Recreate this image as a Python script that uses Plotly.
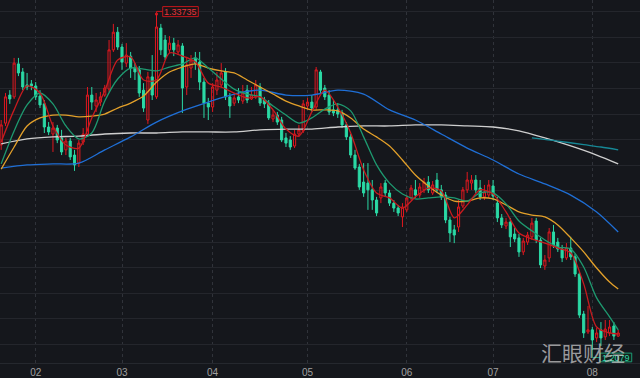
import pandas as pd
import plotly.graph_objects as go

# ---------------- data (GBP/USD daily) ----------------
dates = pd.bdate_range("2019-01-22", periods=144)

open_ = [1.2869, 1.2953, 1.3061, 1.3054, 1.3181, 1.3150, 1.3100, 1.3104, 1.3096, 1.3057,
         1.3027, 1.2938, 1.2911, 1.2934, 1.2896, 1.2850, 1.2884, 1.2830, 1.2799, 1.2880,
         1.2911, 1.3061, 1.3019, 1.3034, 1.3061, 1.3084, 1.3235, 1.3303, 1.3246, 1.3184,
         1.3211, 1.3165, 1.3158, 1.3080, 1.2965, 1.3131, 1.3054, 1.3319, 1.3273, 1.3235,
         1.3261, 1.3227, 1.3250, 1.3092, 1.3165, 1.3204, 1.3188, 1.3111, 1.3030, 1.3015,
         1.3080, 1.3100, 1.3150, 1.3054, 1.3030, 1.3054, 1.3038, 1.3080, 1.3046, 1.3054,
         1.3092, 1.3042, 1.3027, 1.2969, 1.2984, 1.2965, 1.2896, 1.2888, 1.2865, 1.2911,
         1.2923, 1.3019, 1.3034, 1.3015, 1.3150, 1.3088, 1.3061, 1.3004, 1.3004, 1.2992,
         1.2946, 1.2900, 1.2830, 1.2784, 1.2726, 1.2722, 1.2696, 1.2657, 1.2665, 1.2722,
         1.2684, 1.2645, 1.2626, 1.2592, 1.2619, 1.2665, 1.2696, 1.2676, 1.2696, 1.2726,
         1.2684, 1.2734, 1.2696, 1.2676, 1.2580, 1.2542, 1.2553, 1.2634, 1.2696, 1.2722,
         1.2734, 1.2703, 1.2669, 1.2676, 1.2711, 1.2645, 1.2588, 1.2557, 1.2572, 1.2526,
         1.2511, 1.2457, 1.2495, 1.2515, 1.2576, 1.2503, 1.2403, 1.2434, 1.2534, 1.2495,
         1.2468, 1.2434, 1.2472, 1.2438, 1.2372, 1.2218, 1.2149, 1.2157, 1.2126, 1.2157,
         1.2130, 1.2145, 1.2172, 1.2133]

close = [1.2946, 1.3054, 1.3046, 1.3184, 1.3146, 1.3092, 1.3092, 1.3096, 1.3054, 1.3023,
         1.2938, 1.2919, 1.2934, 1.2888, 1.2842, 1.2884, 1.2823, 1.2792, 1.2876, 1.2911,
         1.3061, 1.3034, 1.3042, 1.3054, 1.3088, 1.3235, 1.3303, 1.3246, 1.3188, 1.3215,
         1.3165, 1.3150, 1.3069, 1.3011, 1.3131, 1.3061, 1.3323, 1.3235, 1.3208, 1.3261,
         1.3235, 1.3254, 1.3088, 1.3177, 1.3196, 1.3184, 1.3111, 1.3030, 1.3015, 1.3092,
         1.3119, 1.3146, 1.3054, 1.3019, 1.3050, 1.3042, 1.3069, 1.3042, 1.3061, 1.3100,
         1.3030, 1.3027, 1.2973, 1.2984, 1.2957, 1.2888, 1.2876, 1.2861, 1.2911, 1.2927,
         1.3027, 1.3034, 1.3011, 1.3158, 1.3080, 1.3054, 1.2996, 1.2992, 1.2988, 1.2946,
         1.2900, 1.2830, 1.2780, 1.2707, 1.2684, 1.2696, 1.2657, 1.2607, 1.2707, 1.2684,
         1.2645, 1.2626, 1.2607, 1.2630, 1.2665, 1.2703, 1.2676, 1.2707, 1.2726, 1.2696,
         1.2715, 1.2696, 1.2669, 1.2580, 1.2530, 1.2522, 1.2630, 1.2696, 1.2734, 1.2734,
         1.2696, 1.2669, 1.2688, 1.2715, 1.2672, 1.2588, 1.2561, 1.2572, 1.2515, 1.2507,
         1.2457, 1.2499, 1.2522, 1.2568, 1.2503, 1.2407, 1.2426, 1.2534, 1.2484, 1.2468,
         1.2434, 1.2472, 1.2438, 1.2372, 1.2214, 1.2145, 1.2157, 1.2118, 1.2145, 1.2126,
         1.2160, 1.2168, 1.2133, 1.2145]

high = [1.2965, 1.3069, 1.3080, 1.3204, 1.3204, 1.3165, 1.3146, 1.3119, 1.3111, 1.3080,
        1.3042, 1.2957, 1.2957, 1.2946, 1.2927, 1.2896, 1.2896, 1.2850, 1.2888, 1.2934,
        1.3092, 1.3092, 1.3069, 1.3073, 1.3100, 1.3273, 1.3335, 1.3323, 1.3258, 1.3261,
        1.3227, 1.3184, 1.3173, 1.3107, 1.3150, 1.3215, 1.33735, 1.3335, 1.3292, 1.3288,
        1.3281, 1.3273, 1.3261, 1.3208, 1.3215, 1.3227, 1.3227, 1.3127, 1.3050, 1.3107,
        1.3150, 1.3184, 1.3165, 1.3069, 1.3069, 1.3088, 1.3100, 1.3100, 1.3092, 1.3119,
        1.3107, 1.3054, 1.3042, 1.3004, 1.2996, 1.2977, 1.2915, 1.2903, 1.2927, 1.2946,
        1.3042, 1.3050, 1.3061, 1.3169, 1.3158, 1.3100, 1.3080, 1.3042, 1.3030, 1.3004,
        1.2957, 1.2911, 1.2850, 1.2796, 1.2799, 1.2799, 1.2734, 1.2669, 1.2722, 1.2734,
        1.2696, 1.2657, 1.2638, 1.2645, 1.2676, 1.2715, 1.2734, 1.2722, 1.2742, 1.2749,
        1.2730, 1.2761, 1.2715, 1.2688, 1.2592, 1.2561, 1.2657, 1.2707, 1.2765, 1.2753,
        1.2753, 1.2734, 1.2715, 1.2734, 1.2734, 1.2669, 1.2603, 1.2588, 1.2588, 1.2549,
        1.2526, 1.2511, 1.2534, 1.2588, 1.2588, 1.2511, 1.2445, 1.2549, 1.2561, 1.2511,
        1.2484, 1.2491, 1.2515, 1.2449, 1.2380, 1.2230, 1.2249, 1.2168, 1.2164, 1.2187,
        1.2195, 1.2195, 1.2187, 1.2157]

low = [1.2850, 1.2942, 1.3027, 1.3046, 1.3134, 1.3080, 1.3080, 1.3080, 1.3042, 1.3011,
       1.2915, 1.2907, 1.2842, 1.2876, 1.2830, 1.2830, 1.2811, 1.2769, 1.2784, 1.2869,
       1.2900, 1.3004, 1.2996, 1.3019, 1.3054, 1.3073, 1.3227, 1.3235, 1.3158, 1.3169,
       1.3127, 1.3119, 1.3054, 1.2996, 1.2950, 1.3042, 1.3046, 1.3215, 1.3196, 1.3223,
       1.3211, 1.3215, 1.2992, 1.3061, 1.3127, 1.3158, 1.3080, 1.2973, 1.2965, 1.2996,
       1.3061, 1.3088, 1.3042, 1.2973, 1.3019, 1.3030, 1.3027, 1.3030, 1.3042, 1.3046,
       1.3019, 1.3011, 1.2965, 1.2957, 1.2946, 1.2880, 1.2861, 1.2850, 1.2857, 1.2900,
       1.2915, 1.3004, 1.2996, 1.3004, 1.3069, 1.3042, 1.2984, 1.2980, 1.2973, 1.2934,
       1.2888, 1.2819, 1.2773, 1.2696, 1.2669, 1.2619, 1.2619, 1.2595, 1.2645, 1.2669,
       1.2634, 1.2611, 1.2595, 1.2553, 1.2611, 1.2657, 1.2665, 1.2665, 1.2684, 1.2684,
       1.2676, 1.2684, 1.2657, 1.2568, 1.2495, 1.2491, 1.2534, 1.2626, 1.2684, 1.2696,
       1.2684, 1.2657, 1.2657, 1.2665, 1.2657, 1.2572, 1.2549, 1.2545, 1.2476, 1.2495,
       1.2438, 1.2445, 1.2484, 1.2503, 1.2491, 1.2395, 1.2388, 1.2418, 1.2472, 1.2457,
       1.2418, 1.2426, 1.2426, 1.2361, 1.2203, 1.2126, 1.2141, 1.2079, 1.2110, 1.2095,
       1.2118, 1.2133, 1.2118, 1.2130]

ma_short_idx = list(range(0, 142, 3)) + [143]
ma5 = [1.2880, 1.3004, 1.3096, 1.3069, 1.2942, 1.2869, 1.2857, 1.2973, 1.3077, 1.3196,
       1.3208, 1.3119, 1.3119, 1.3223, 1.3211, 1.3188, 1.3107, 1.3092, 1.3069, 1.3050,
       1.3054, 1.3004, 1.2930, 1.2903, 1.2996, 1.3080, 1.3015, 1.2915, 1.2773, 1.2684,
       1.2665, 1.2626, 1.2669, 1.2703, 1.2692, 1.2588, 1.2638, 1.2696, 1.2680, 1.2611,
       1.2530, 1.2507, 1.2491, 1.2472, 1.2453, 1.2334, 1.2168, 1.2145, 1.2141]
ma10 = [1.2796, 1.2923, 1.3023, 1.3069, 1.3027, 1.2942, 1.2892, 1.2915, 1.3038, 1.3123,
        1.3165, 1.3161, 1.3154, 1.3169, 1.3181, 1.3204, 1.3165, 1.3123, 1.3084, 1.3065,
        1.3054, 1.3019, 1.2984, 1.2953, 1.2973, 1.3007, 1.3027, 1.3000, 1.2900, 1.2792,
        1.2722, 1.2680, 1.2661, 1.2665, 1.2669, 1.2665, 1.2653, 1.2684, 1.2684, 1.2642,
        1.2576, 1.2538, 1.2503, 1.2476, 1.2468, 1.2399, 1.2280, 1.2207, 1.2157]
ma20 = [1.2776, 1.2861, 1.2942, 1.2973, 1.2984, 1.2984, 1.2977, 1.2980, 1.2988, 1.3011,
        1.3030, 1.3057, 1.3111, 1.3150, 1.3169, 1.3181, 1.3165, 1.3154, 1.3146, 1.3119,
        1.3092, 1.3065, 1.3038, 1.3019, 1.3004, 1.3004, 1.3000, 1.2973, 1.2930, 1.2900,
        1.2865, 1.2811, 1.2753, 1.2711, 1.2676, 1.2653, 1.2653, 1.2665, 1.2661, 1.2638,
        1.2611, 1.2599, 1.2592, 1.2561, 1.2511, 1.2457, 1.2395, 1.2341, 1.2314]

ma_long_idx = list(range(0, 139, 6)) + [143]
ma60 = [1.2780, 1.2792, 1.2796, 1.2799, 1.2850, 1.2900, 1.2957, 1.3000, 1.3034, 1.3065,
        1.3080, 1.3061, 1.3061, 1.3080, 1.3065, 1.3004, 1.2965, 1.2911, 1.2857, 1.2811,
        1.2757, 1.2719, 1.2676, 1.2611, 1.2534]
ma120 = [1.2873, 1.2892, 1.2900, 1.2903, 1.2911, 1.2915, 1.2915, 1.2919, 1.2919, 1.2919,
         1.2927, 1.2930, 1.2930, 1.2938, 1.2942, 1.2942, 1.2946, 1.2946, 1.2942, 1.2938,
         1.2923, 1.2896, 1.2865, 1.2830, 1.2796]
ma250_idx = [123, 129, 135, 139, 143]
ma250 = [1.2896, 1.2884, 1.2870, 1.2861, 1.2850]

watermark = "汇眼财经"

# ---------------- derived helpers ----------------
xs = list(range(len(dates)))
months = pd.Series(dates.month)
tick_idx = [i for i in xs if i > 0 and months[i] != months[i - 1]]
tick_txt = [dates[i].strftime("%m") for i in tick_idx]

hi_i = high.index(max(high))
lo_i = low.index(min(low))

BG = "#15171c"
RED = "#e0181f"
GREEN = "#2bd9a5"

fig = go.Figure()
fig.add_trace(go.Candlestick(
    x=xs, open=open_, high=high, low=low, close=close,
    increasing=dict(line=dict(color=RED, width=1), fillcolor="rgba(0,0,0,0)"),
    decreasing=dict(line=dict(color=GREEN, width=1), fillcolor=GREEN),
    whiskerwidth=0, showlegend=False, hoverinfo="skip"))

lines = [
    (ma_long_idx, ma120, "#cfcfcf"),
    (ma250_idx, ma250, "#168896"),
    (ma_long_idx, ma60, "#1f6fd6"),
    (ma_short_idx, ma20, "#e3a02a"),
    (ma_short_idx, ma10, "#1e9a70"),
    (ma_short_idx, ma5, "#c81b1f"),
]
for lx, ly, col in lines:
    fig.add_trace(go.Scatter(x=lx, y=ly, mode="lines",
                             line=dict(color=col, width=1.3, shape="spline", smoothing=0.8),
                             showlegend=False, hoverinfo="skip"))

# max / min markers
fig.add_trace(go.Scatter(x=[hi_i], y=[max(high)], mode="markers",
                         marker=dict(color=RED, size=3), showlegend=False, hoverinfo="skip"))

shapes = []
def pix_shape(kind, xa, ya, x0, y0, x1, y1, color, fill=None):
    d = dict(type=kind, xref="x", yref="y", xsizemode="pixel", ysizemode="pixel",
             xanchor=xa, yanchor=ya, x0=x0, y0=y0, x1=x1, y1=y1,
             line=dict(color=color, width=1), layer="above")
    if fill:
        d["fillcolor"] = fill
    return d

hv = max(high)
shapes.append(pix_shape("line", hi_i, hv, 0, 0, 0, 2.5, "#c4161c"))
shapes.append(pix_shape("line", hi_i, hv, 0, 2.5, 6.2, 2.5, "#c4161c"))
shapes.append(pix_shape("rect", hi_i, hv, 6.2, -2.7, 41.8, 7.3, "#c4161c", "#1a1518"))

lv = min(low)
shapes.append(pix_shape("line", lo_i, lv, 0, 0, 0, -7.4, "#1c9c74"))
shapes.append(pix_shape("line", lo_i, lv, 0, -7.4, 7.7, -7.4, "#1c9c74"))
shapes.append(pix_shape("rect", lo_i, lv, 7.7, -11.7, 39.4, -3, "#1c9c74", "#14211d"))

annotations = [
    dict(x=hi_i, y=hv, xref="x", yref="y", text=f"{hv:.5f}", showarrow=False,
         xshift=24, yshift=2.3, xanchor="center", yanchor="middle",
         font=dict(family="Liberation Sans, Arial", size=9, color="#e8343a")),
    dict(x=lo_i, y=lv, xref="x", yref="y", text=f"{lv:.4f}", showarrow=False,
         xshift=23.5, yshift=-7.4, xanchor="center", yanchor="middle",
         font=dict(family="Liberation Sans, Arial", size=9, color="#2fd8a6")),
    dict(x=582.5 / 640, y=1 - 351.7 / 363, xref="paper", yref="paper", text=watermark,
         showarrow=False, xanchor="center", yanchor="middle",
         font=dict(family="Noto Sans CJK SC", size=21, color="rgba(205,205,205,0.72)")),
]

fig.update_layout(
    width=640, height=378,
    margin=dict(l=0, r=0, t=0, b=15),
    paper_bgcolor=BG, plot_bgcolor=BG,
    shapes=shapes, annotations=annotations,
    showlegend=False,
    xaxis=dict(range=[-0.273, 148.05], tickmode="array", tickvals=tick_idx, ticktext=tick_txt,
               showgrid=True, gridcolor="#30333a", griddash="dot", gridwidth=1,
               zeroline=False, showline=True, linecolor="#25282e", linewidth=1,
               ticks="", tickfont=dict(family="Liberation Sans, Arial", size=10, color="#a0a0a0"),
               rangeslider=dict(visible=False), fixedrange=True),
    yaxis=dict(range=[1.20294, 1.3427], tickmode="linear", tick0=1.3382, dtick=0.009856,
               showticklabels=False, showgrid=True, gridcolor="#24262c", gridwidth=1,
               zeroline=False, fixedrange=True),
)

fig.write_html("out.html", config={"displayModeBar": False},
               post_script="document.body.style.margin='0';document.body.style.background='%s';" % BG)
